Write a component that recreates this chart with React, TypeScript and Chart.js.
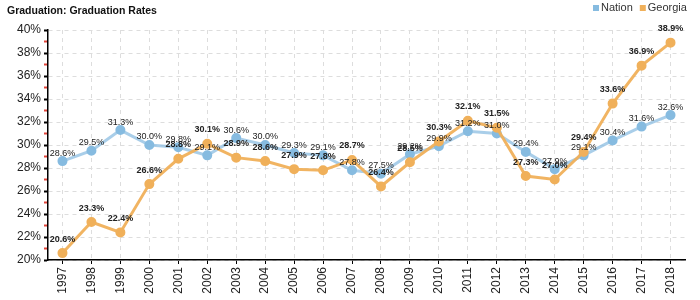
import React, { useEffect, useRef } from "react";
import { Chart, registerables } from "chart.js";

Chart.register(...registerables);

const years = ["1997","1998","1999","2000","2001","2002","2003","2004","2005","2006","2007","2008","2009","2010","2011","2012","2013","2014","2015","2016","2017","2018"];
const nation = [28.6, 29.5, 31.3, 30.0, 29.8, 29.1, 30.6, 30.0, 29.3, 29.1, 27.8, 27.5, 29.2, 29.9, 31.2, 31.0, 29.4, 27.9, 29.1, 30.4, 31.6, 32.6];
const georgia = [20.6, 23.3, 22.4, 26.6, 28.8, 30.1, 28.9, 28.6, 27.9, 27.8, 28.7, 26.4, 28.5, 30.3, 32.1, 31.5, 27.3, 27.0, 29.4, 33.6, 36.9, 38.9];
const titleText = "Graduation: Graduation Rates";
const seriesNames = ["Nation", "Georgia"];

const FONT = "'Liberation Sans', Arial, sans-serif";
const BLUE = "#86bbe0";
const BLUE_LINE = "rgba(140,190,225,0.75)";
const ORANGE = "#f0b05a";
const ORANGE_LINE = "rgba(240,176,90,0.95)";

const labelPlugin = {
  id: "valueLabels",
  afterDatasetsDraw(chart: any) {
    const ctx = chart.ctx;
    ctx.save();
    ctx.textAlign = "center";
    ctx.textBaseline = "middle";
    ctx.fillStyle = "#222";
    const order = [0, 1];
    order.forEach((di) => {
      const meta = chart.getDatasetMeta(di);
      const ds = chart.data.datasets[di];
      const bold = ds.label === "Georgia";
      ctx.font = (bold ? "bold " : "") + "9px " + FONT;
      const off = bold ? 14 : 8;
      meta.data.forEach((pt: any, i: number) => {
        const v = ds.data[i] as number;
        ctx.fillText(v.toFixed(1) + "%", pt.x, pt.y - off);
      });
    });
    ctx.restore();
  },
};

const headerPlugin = {
  id: "header",
  afterDraw(chart: any) {
    const ctx = chart.ctx;
    ctx.save();
    ctx.textBaseline = "middle";
    ctx.textAlign = "left";
    ctx.fillStyle = "#111";
    ctx.font = "bold 10.5px " + FONT;
    ctx.fillText(titleText, 7, 11);
    ctx.font = "11px " + FONT;
    const items = [
      { name: seriesNames[0], color: BLUE },
      { name: seriesNames[1], color: ORANGE },
    ];
    let x = 593;
    items.forEach((it) => {
      ctx.fillStyle = it.color;
      ctx.fillRect(x, 5, 6, 6);
      ctx.fillStyle = "#333";
      ctx.fillText(it.name, x + 8, 8);
      x += 8 + ctx.measureText(it.name).width + 7;
    });
    ctx.restore();
  },
};

export default function App() {
  const ref = useRef<HTMLCanvasElement | null>(null);
  useEffect(() => {
    if (!ref.current) return;
    const chart = new Chart(ref.current, {
      type: "line",
      data: {
        labels: years,
        datasets: [
          {
            label: "Nation",
            data: nation,
            borderColor: BLUE_LINE,
            backgroundColor: BLUE,
            pointBackgroundColor: BLUE,
            pointBorderColor: BLUE,
            borderWidth: 3,
            pointRadius: 3.5,
            tension: 0,
            order: 1,
          },
          {
            label: "Georgia",
            data: georgia,
            borderColor: ORANGE_LINE,
            backgroundColor: ORANGE,
            pointBackgroundColor: ORANGE,
            pointBorderColor: ORANGE,
            borderWidth: 3,
            pointRadius: 3.5,
            tension: 0,
            order: 0,
          },
        ],
      },
      options: {
        responsive: false,
        animation: false,
        layout: { padding: { top: 30, right: 15, left: 0, bottom: 0 } },
        plugins: {
          legend: { display: false },
          title: { display: false },
          tooltip: { enabled: false },
        },
        scales: {
          x: {
            offset: true,
            afterFit: (s: any) => { s.height = 40; },
            grid: {
              offset: false,
              color: "#dddddd",
              tickColor: "#000",
              tickLength: 4,
              tickWidth: 1,
              tickBorderDash: [],
              drawTicks: true,
            },
            border: { color: "#000", width: 1.5, dash: [4, 4] },
            ticks: {
              autoSkip: false,
              maxRotation: 90,
              minRotation: 90,
              padding: 3,
              color: "#222",
              font: { family: FONT, size: 12 },
            },
          },
          y: {
            min: 20,
            max: 40,
            afterFit: (s: any) => { s.width = 48; },
            grid: {
              color: (c: any) => (c.tick && Math.round(c.tick.value) % 2 === 0 ? "#dddddd" : "rgba(0,0,0,0)"),
              tickColor: (c: any) => (c.tick && Math.round(c.tick.value) % 2 === 0 ? "#000" : "#e0443a"),
              tickLength: 4,
              tickWidth: 2,
              tickBorderDash: [],
              drawTicks: true,
            },
            border: { color: "#000", width: 1.5, dash: [4, 4] },
            ticks: {
              stepSize: 1,
              autoSkip: false,
              padding: 3,
              color: "#222",
              font: { family: FONT, size: 12 },
              callback: (v: any) => (Math.round(v) % 2 === 0 ? v + "%" : ""),
            },
          },
        },
      },
      plugins: [labelPlugin, headerPlugin],
    });
    return () => chart.destroy();
  }, []);
  return (
    <div style={{ position: "absolute", left: 0, top: 0, width: 700, height: 300, background: "#fff" }}>
      <canvas ref={ref} width={700} height={300} />
    </div>
  );
}
